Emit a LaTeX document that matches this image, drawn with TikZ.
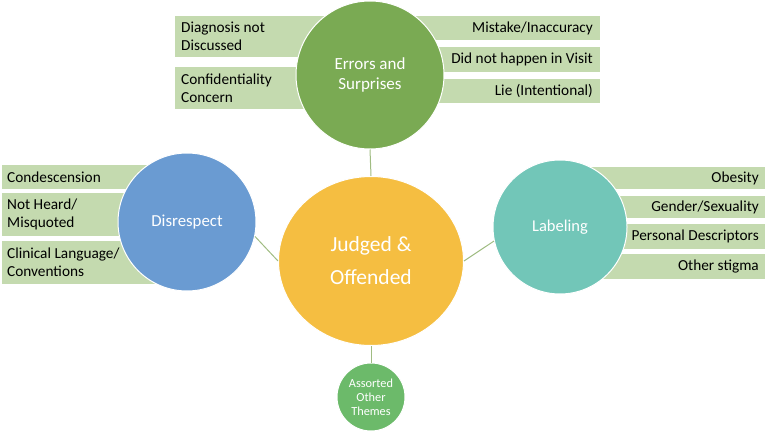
\documentclass[tikz,border=0pt]{standalone}
\usepackage{fontspec}
\setmainfont{Carlito}
\usetikzlibrary{shapes.geometric}
\definecolor{boxg}{HTML}{C4DAAF}
\definecolor{errg}{HTML}{7AAA53}
\definecolor{disb}{HTML}{6A9BD2}
\definecolor{labt}{HTML}{72C6B8}
\definecolor{judy}{HTML}{F5BE41}
\definecolor{assg}{HTML}{6CBA6A}
\definecolor{conn}{HTML}{A0BC82}
\tikzset{
  box/.style={fill=boxg, draw=none},
  rtxt/.style={font=\fontsize{15.3}{18.3}\selectfont, text=black, inner sep=0pt, anchor=east},
  ltxt/.style={font=\fontsize{15.3}{18.3}\selectfont, text=black, inner sep=0pt, anchor=west, align=left},
  bub/.style={circle, draw=white, line width=1pt, text=white, inner sep=0pt, align=center},
  link/.style={draw=conn, line width=1pt}
}
\begin{document}
\begin{tikzpicture}[x=1pt,y=-1pt]
\useasboundingbox (0,0) rectangle (768,433);
% top boxes
\fill[box] (175,16) rectangle (335,57);
\fill[box] (175,67) rectangle (335,109);
\fill[box] (405,16) rectangle (600,40);
\fill[box] (405,47) rectangle (600,72);
\fill[box] (405,79) rectangle (600,103);
\node[ltxt] (t1) at (181,36.5) {Diagnosis not\\Discussed};
\node[ltxt] (t2) at (181,88) {Confidentiality\\Concern};
\node[rtxt] (t3) at (593,28) {Mistake/Inaccuracy};
\node[rtxt] (t4) at (593,59.5) {Did not happen in Visit};
\node[rtxt] (t5) at (593,91) {Lie (Intentional)};
% left boxes
\fill[box] (2,165) rectangle (160,189);
\fill[box] (2,193) rectangle (160,236);
\fill[box] (2,241) rectangle (160,284);
\node[ltxt] (d1) at (7,177) {Condescension};
\node[ltxt] (d2) at (7,214.5) {Not Heard/\\Misquoted};
\node[ltxt] (d3) at (7,262.5) {Clinical Language/\\Conventions};
% right boxes
\fill[box] (590,167) rectangle (765,189);
\fill[box] (590,196) rectangle (765,218);
\fill[box] (590,224) rectangle (765,249);
\fill[box] (590,254) rectangle (765,279);
\node[rtxt] (l1) at (759,178) {Obesity};
\node[rtxt] (l2) at (759,207) {Gender/Sexuality};
\node[rtxt] (l3) at (759,236.5) {Personal Descriptors};
\node[rtxt] (l4) at (759,266.5) {Other stigma};
% circles
\node[bub, fill=errg, minimum size=148pt, font=\fontsize{17}{19.5}\selectfont] (err) at (370,75) {Errors and\\Surprises};
\node[bub, fill=disb, minimum size=138pt, font=\fontsize{16.8}{19}\selectfont] (dis) at (187,222) {Disrespect};
\node[bub, fill=labt, minimum size=134pt, font=\fontsize{16.5}{19}\selectfont] (lab) at (560,227) {Labeling};
\node[ellipse, draw=white, line width=1pt, fill=judy, text=white, inner sep=0pt, align=center, minimum width=185pt, minimum height=169pt, font=\fontsize{21.5}{33}\selectfont] (jud) at (371,261) {Judged \&\\Offended};
\node[bub, fill=assg, minimum size=68pt, font=\fontsize{12.3}{13.8}\selectfont] (ass) at (371,397) {Assorted\\Other\\Themes};
% connectors
\draw[link] (err.south) -- (jud.north);
\draw[link] (dis.-12) -- (jud.west);
\draw[link] (lab.192) -- (jud.east);
\draw[link] (jud.south) -- (ass.north);
\end{tikzpicture}
\end{document}
